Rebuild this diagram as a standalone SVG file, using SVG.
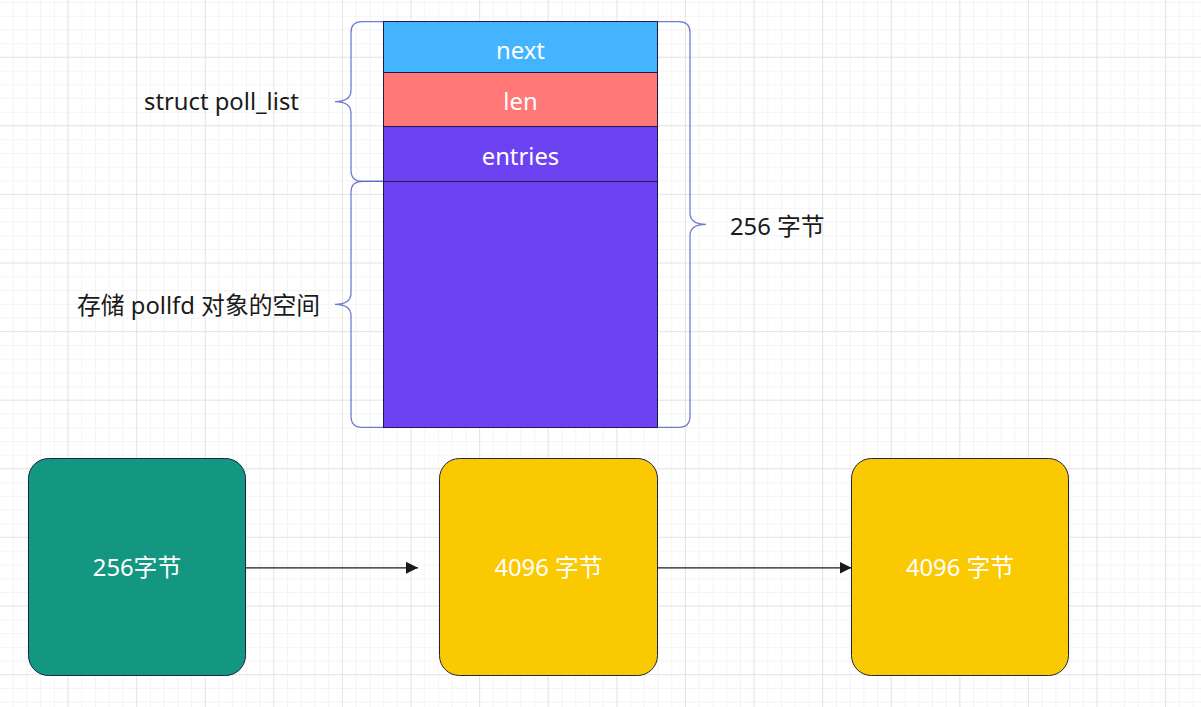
<svg xmlns="http://www.w3.org/2000/svg" width="1201" height="707" viewBox="0 0 1201 707">
<defs>
<pattern id="minor" x="0" y="3" width="13.72" height="13.72" patternUnits="userSpaceOnUse">
<path d="M13.72 0V13.72M0 13.72H13.72" fill="none" stroke="#e9e9e9" stroke-width="1"/>
</pattern>
<pattern id="major" x="-0.1" y="-11" width="68.6" height="68.6" patternUnits="userSpaceOnUse">
<path d="M68.6 0V68.6M0 68.6H68.6" fill="none" stroke="#d6d6d6" stroke-width="1"/>
</pattern>
<marker id="arr" viewBox="0 0 12 12" refX="12" refY="6" markerWidth="12" markerHeight="12" markerUnits="userSpaceOnUse" orient="auto">
<path d="M0 0L12 6L0 12Z" fill="#1a1a1a"/>
</marker>
<style>
.t{font-family:"Noto Sans","Noto Sans CJK SC",sans-serif;font-size:23.8px;}
.w{fill:#ffffff;text-anchor:middle;}
.k{fill:#1a1a1a;}
.brace{fill:none;stroke:#5566cc;stroke-width:1.3;stroke-opacity:0.85;}
.cell{stroke:#1b1b4a;stroke-width:1;}
.box{stroke:#1b2545;stroke-width:1;}
</style>
</defs>
<rect width="1201" height="707" fill="#ffffff"/>
<rect width="1201" height="707" fill="url(#minor)"/>
<rect width="1201" height="707" fill="url(#major)"/>

<g id="struct">
<rect class="cell" x="383.5" y="21.5" width="274" height="51" fill="#44b4ff"/>
<rect class="cell" x="383.5" y="72.5" width="274" height="54" fill="#ff7777"/>
<rect class="cell" x="383.5" y="126.5" width="274" height="55" fill="#6c42f2"/>
<rect class="cell" x="383.5" y="181.5" width="274" height="246" fill="#6c42f2"/>
<text class="t w" x="520.5" y="59">next</text>
<text class="t w" x="520.5" y="110">len</text>
<text class="t w" x="520.5" y="165">entries</text>
</g>

<g id="brace-poll-list">
<path class="brace" d="M383 21.7H362Q351 21.7 351 32.7V90Q351 101.7 335 101.7Q351 101.7 351 113.4V170Q351 181.3 362 181.3H383"/>
<text class="t k" x="144" y="110">struct poll_list</text>
</g>

<g id="brace-pollfd">
<path class="brace" d="M383 181.3H362Q351 181.3 351 192.3V293Q351 304.3 335 304.3Q351 304.3 351 315.6V416Q351 427.3 362 427.3H383"/>
<text class="t k" x="77" y="314">存储 pollfd 对象的空间</text>
</g>

<g id="brace-256">
<path class="brace" d="M657.7 21.7H679Q690 21.7 690 32.7V213Q690 224.3 706 224.3Q690 224.3 690 235.6V416Q690 427.3 679 427.3H657.7"/>
<text class="t k" x="730" y="235">256 字节</text>
</g>

<g id="box1">
<rect class="box" x="28.5" y="458.5" width="217" height="217" rx="20" fill="#139781"/>
<text class="t w" x="137" y="576">256字节</text>
</g>
<g id="box2">
<rect class="box" x="439.5" y="458.5" width="218" height="217" rx="20" fill="#fbc902"/>
<text class="t w" x="548.5" y="576">4096 字节</text>
</g>
<g id="box3">
<rect class="box" x="851.5" y="458.5" width="217" height="217" rx="20" fill="#fbc902"/>
<text class="t w" x="960" y="576">4096 字节</text>
</g>

<g id="connectors">
<line x1="245.7" y1="567.8" x2="418" y2="567.8" stroke="#1a1a1a" stroke-width="1.3" marker-end="url(#arr)"/>
<line x1="657.7" y1="567.8" x2="851.5" y2="567.8" stroke="#1a1a1a" stroke-width="1.3" marker-end="url(#arr)"/>
</g>
</svg>
